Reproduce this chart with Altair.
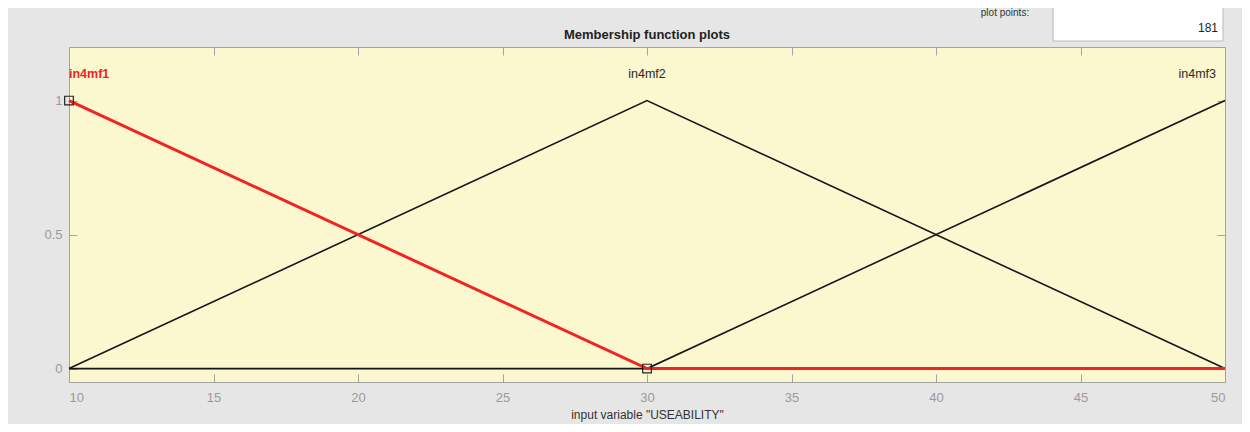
import altair as alt
import pandas as pd

# ---- data ----
x_points = [10, 30, 50]
mf_names = ["in4mf1", "in4mf2", "in4mf3"]
mf1_vals = [1, 0, 0]
mf2_vals = [0, 1, 0]
mf3_vals = [0, 0, 1]
label_x = [10, 30, 50]
label_y = [1.1, 1.1, 1.1]
vertex_x = [10, 30]
vertex_y = [1, 0]
x_ticks = [10, 15, 20, 25, 30, 35, 40, 45, 50]
y_ticks = [0, 0.5, 1]
plot_points = [181]
chart_title = ["Membership function plots"]

W, H = 1156, 335
GRAY = "#a3a3a3"

rows = []
for name, vals in zip(mf_names, [mf1_vals, mf2_vals, mf3_vals]):
    for xv, yv in zip(x_points, vals):
        rows.append({"mf": name, "x": xv, "y": yv})
df = pd.DataFrame(rows)
black_df = df[df.mf != "in4mf1"]
red_df = df[df.mf == "in4mf1"]
sq_df = pd.DataFrame({"x": vertex_x, "y": vertex_y})
lab_df = pd.DataFrame({"mf": mf_names, "x": label_x, "y": label_y})

xs = alt.Scale(domain=[10, 50], nice=False, zero=False)
ys = alt.Scale(domain=[-0.05, 1.2], nice=False, zero=False)

# axis with labels/title (no ticks)
ax_x_lab = alt.Axis(orient="bottom", values=x_ticks, ticks=False, domain=False, grid=False,
                    labelColor="#9a9a9a", labelFontSize=13, labelPadding=9, format="d",
                    title='input variable "USEABILITY"', titleColor="#333333",
                    titleFontSize=12, titleFontWeight="normal", titlePadding=5)
ax_y_lab = alt.Axis(orient="left", values=y_ticks, ticks=False, domain=False, grid=False,
                    labelColor="#9a9a9a", labelFontSize=13, labelPadding=7,
                    labelExpr="datum.value + ''", title=None)
# inward ticks at bottom/left
ax_x_b = alt.Axis(orient="top", offset=-H, values=x_ticks, labels=False, domain=False, grid=False,
                  ticks=True, tickSize=8, tickColor=GRAY, title=None)
ax_y_b = alt.Axis(orient="right", offset=-W, values=y_ticks, labels=False, domain=False, grid=False,
                  ticks=True, tickSize=8, tickColor=GRAY, title=None)
# inward ticks at top/right
ax_x_t = alt.Axis(orient="bottom", offset=-H, values=x_ticks, labels=False, domain=False, grid=False,
                  ticks=True, tickSize=8, tickColor=GRAY, title=None)
ax_y_t = alt.Axis(orient="left", offset=-W, values=y_ticks, labels=False, domain=False, grid=False,
                  ticks=True, tickSize=8, tickColor=GRAY, title=None)

black = alt.Chart(black_df).mark_line(color="#161616", strokeWidth=1.6).encode(
    x=alt.X("x:Q", scale=xs, axis=ax_x_lab),
    y=alt.Y("y:Q", scale=ys, axis=ax_y_lab),
    detail="mf:N",
)
red = alt.Chart(red_df).mark_line(color="#f02424", strokeWidth=3).encode(
    x=alt.X("x:Q", scale=xs, axis=ax_x_b),
    y=alt.Y("y:Q", scale=ys, axis=ax_y_b),
)
squares = alt.Chart(sq_df).mark_point(shape="square", size=75, filled=False,
                                      color="#222222", strokeWidth=1.2, opacity=1).encode(
    x=alt.X("x:Q", scale=xs, axis=ax_x_t),
    y=alt.Y("y:Q", scale=ys, axis=ax_y_t),
)

texts = []
for name, align, dx, col, wt in [("in4mf1", "left", 0, "#f02424", "bold"),
                                  ("in4mf2", "center", 0, "#2a2a2a", "normal"),
                                  ("in4mf3", "right", -9, "#2a2a2a", "normal")]:
    texts.append(
        alt.Chart(lab_df[lab_df.mf == name]).mark_text(
            align=align, baseline="middle", dx=dx, fontSize=12.5, color=col, fontWeight=wt
        ).encode(
            x=alt.X("x:Q", scale=xs, axis=None),
            y=alt.Y("y:Q", scale=ys, axis=None),
            text="mf:N",
        )
    )

title_df = pd.DataFrame({"t": chart_title})
title = alt.Chart(title_df).mark_text(align="center", baseline="alphabetic", fontSize=13,
                                      fontWeight="bold", color="#222222").encode(
    x=alt.value(W / 2), y=alt.value(-8), text="t:N"
)

pp_df = pd.DataFrame({"v": plot_points})
box = alt.Chart(pp_df).mark_rect(fill="white", stroke="#b8b8b8", strokeWidth=1).encode(
    x=alt.value(984), x2=alt.value(1154), y=alt.value(-45), y2=alt.value(-6)
)
pp_label = alt.Chart(pp_df).mark_text(text="plot points:", align="center", baseline="middle",
                                      fontSize=10, color="#333333").encode(
    x=alt.value(936), y=alt.value(-34)
)
pp_val = alt.Chart(pp_df).mark_text(align="right", baseline="middle",
                                    fontSize=12, color="#222222").encode(
    x=alt.value(1149), y=alt.value(-19), text="v:Q"
)

chart = alt.layer(black, red, squares, *texts, title, box, pp_label, pp_val).resolve_axis(
    x="independent", y="independent"
).properties(
    width=W, height=H,
    padding={"left": 61, "top": 39, "right": 17, "bottom": 42},
    autosize=alt.AutoSizeParams(type="none"),
    background="#e6e6e6",
    view=alt.ViewBackground(fill="#fbf7cf", stroke=GRAY, strokeWidth=1),
).configure_view(
    fill="#fbf7cf", stroke=GRAY, strokeWidth=1
).configure(font="Liberation Sans")

chart.save("out.html", embed_options={"renderer": "svg", "actions": False})
